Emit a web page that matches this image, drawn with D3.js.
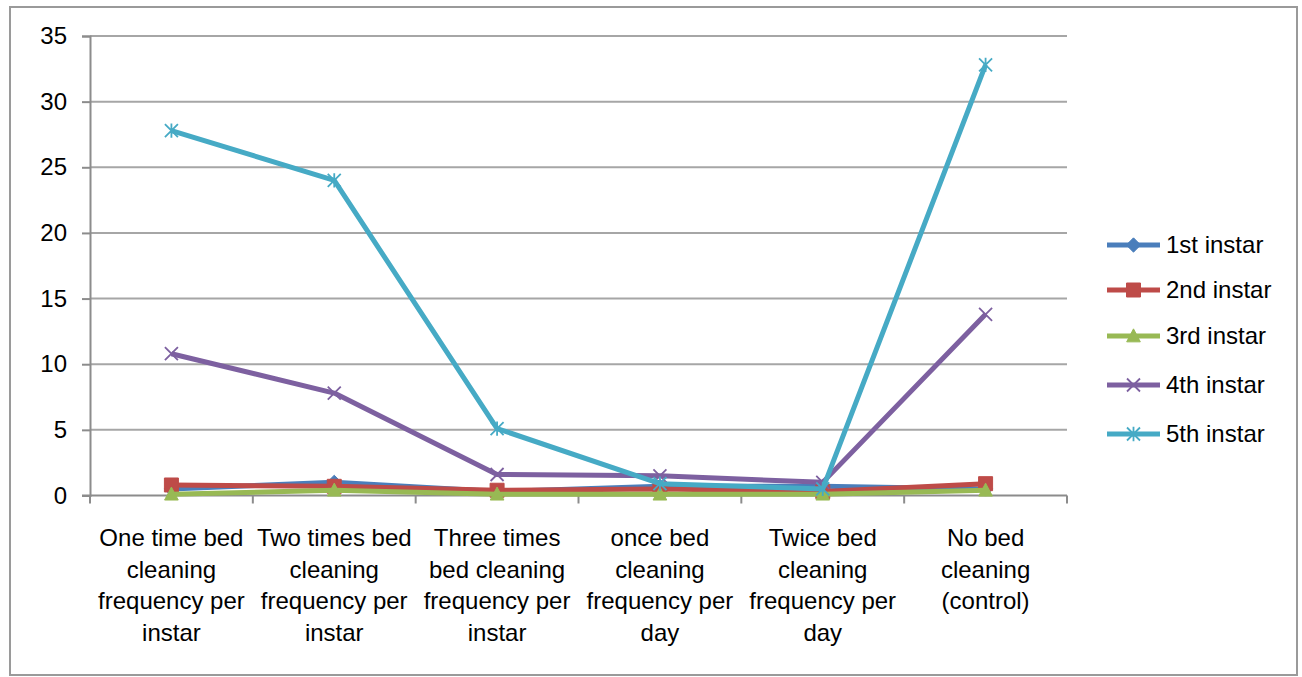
<!DOCTYPE html>
<html>
<head>
<meta charset="utf-8">
<script src="https://cdn.jsdelivr.net/npm/d3@7"></script>
<style>
  html, body { margin: 0; padding: 0; background: #fff; }
  svg { display: block; }
  text { font-family: "Liberation Sans", Arial, sans-serif; fill: #000; }
</style>
</head>
<body>
<svg id="chart" width="1302" height="677"></svg>
<script>
// ---- data ----
const categories = [
  ["One time bed", "cleaning", "frequency per", "instar"],
  ["Two times bed", "cleaning", "frequency per", "instar"],
  ["Three times", "bed cleaning", "frequency per", "instar"],
  ["once bed", "cleaning", "frequency per", "day"],
  ["Twice bed", "cleaning", "frequency per", "day"],
  ["No bed", "cleaning", "(control)"]
];
const seriesNames = ["1st instar", "2nd instar", "3rd instar", "4th instar", "5th instar"];
const instar1 = [0.5, 1.0, 0.3, 0.7, 0.7, 0.5];
const instar2 = [0.8, 0.7, 0.4, 0.5, 0.3, 0.9];
const instar3 = [0.1, 0.4, 0.1, 0.1, 0.1, 0.4];
const instar4 = [10.8, 7.8, 1.6, 1.5, 1.0, 13.8];
const instar5 = [27.8, 24.0, 5.1, 0.9, 0.5, 32.8];
const yTicks = [0, 5, 10, 15, 20, 25, 30, 35];
const colors = ["#4A7EBB", "#BE4B48", "#98B954", "#7D60A0", "#46AAC5"];
const markers = ["diamond", "square", "triangle", "x", "star"];

const allSeries = [instar1, instar2, instar3, instar4, instar5];

// ---- layout ----
const svg = d3.select("#chart");
const plotLeft = 90, plotRight = 1067, plotTop = 36, plotBottom = 495.5;
const FS = 24;

// outer border
svg.append("rect").attr("x", 10).attr("y", 7).attr("width", 1287).attr("height", 668)
  .attr("fill", "#fff").attr("stroke", "#9a9a9a").attr("stroke-width", 2);

const x = d3.scaleBand().domain(d3.range(categories.length)).range([plotLeft, plotRight]).padding(0);
const y = d3.scaleLinear().domain([0, 35]).range([plotBottom, plotTop]);

// gridlines
svg.append("g").selectAll("line").data(yTicks.filter(d => d > 0)).join("line")
  .attr("x1", plotLeft).attr("x2", plotRight)
  .attr("y1", d => y(d)).attr("y2", d => y(d))
  .attr("stroke", "#a6a6a6").attr("stroke-width", 2);

// y axis
const yAxis = svg.append("g").attr("transform", `translate(${plotLeft},0)`)
  .call(d3.axisLeft(y).tickValues(yTicks).tickSize(8).tickPadding(15).tickFormat(d3.format("d")));
yAxis.select(".domain").attr("stroke", "#8c8c8c").attr("stroke-width", 2);
yAxis.selectAll(".tick line").attr("stroke", "#8c8c8c").attr("stroke-width", 2);
yAxis.selectAll(".tick text").attr("font-size", FS).attr("font-family", "Liberation Sans, Arial, sans-serif").attr("fill", "#000");

// x axis (baseline + ticks between categories)
const xAxisG = svg.append("g");
xAxisG.append("line").attr("x1", plotLeft - 8).attr("x2", plotRight)
  .attr("y1", plotBottom).attr("y2", plotBottom).attr("stroke", "#8c8c8c").attr("stroke-width", 2);
const boundaries = d3.range(categories.length + 1).map(i => i < categories.length ? x(i) : plotRight);
xAxisG.selectAll("line.tk").data(boundaries).join("line").attr("class", "tk")
  .attr("x1", d => d).attr("x2", d => d)
  .attr("y1", plotBottom).attr("y2", plotBottom + 8)
  .attr("stroke", "#8c8c8c").attr("stroke-width", 2);

// category labels
const lab = svg.append("g").selectAll("text").data(categories).join("text")
  .attr("text-anchor", "middle").attr("font-size", FS)
  .attr("x", (d, i) => x(i) + x.bandwidth() / 2)
  .attr("y", 546);
lab.each(function(lines, i) {
  const t = d3.select(this);
  lines.forEach((l, j) => {
    t.append("tspan").attr("x", x(i) + x.bandwidth() / 2).attr("dy", j === 0 ? 0 : 31.7).text(l);
  });
});

// marker path generator
function markerPath(type, s) {
  const h = s / 2;
  switch (type) {
    case "diamond": return `M0,${-h*1.1}L${h*1.1},0L0,${h*1.1}L${-h*1.1},0Z`;
    case "square": return `M${-h},${-h}H${h}V${h}H${-h}Z`;
    case "triangle": return `M0,${-h*1.1}L${h*1.05},${h*0.9}L${-h*1.05},${h*0.9}Z`;
    case "x": return `M${-h},${-h}L${h},${h}M${-h},${h}L${h},${-h}`;
    case "star": return `M${-h},${-h}L${h},${h}M${-h},${h}L${h},${-h}M0,${-h*1.1}V${h*1.1}`;
  }
}
function drawMarker(g, type, color) {
  const filled = type === "diamond" || type === "square" || type === "triangle";
  const size = type === "square" ? 14 : 13;
  g.append("path").attr("d", markerPath(type, size))
    .attr("fill", filled ? color : "none")
    .attr("stroke", color).attr("stroke-width", filled ? 1 : 1.8);
}

const line = d3.line().x((d, i) => x(i) + x.bandwidth() / 2).y(d => y(d));

allSeries.forEach((vals, si) => {
  const g = svg.append("g");
  g.append("path").datum(vals).attr("d", line)
    .attr("fill", "none").attr("stroke", colors[si]).attr("stroke-width", 5)
    .attr("stroke-linejoin", "round");
  vals.forEach((v, i) => {
    const mg = g.append("g").attr("transform", `translate(${x(i) + x.bandwidth() / 2},${y(v)})`);
    drawMarker(mg, markers[si], colors[si]);
  });
});

// legend
const legendY = [245, 290, 336, 385, 434];
const leg = svg.append("g");
seriesNames.forEach((name, i) => {
  const g = leg.append("g").attr("transform", `translate(0,${legendY[i]})`);
  g.append("line").attr("x1", 1107).attr("x2", 1160).attr("y1", 0).attr("y2", 0)
    .attr("stroke", colors[i]).attr("stroke-width", 5);
  const mg = g.append("g").attr("transform", "translate(1133.5,0)");
  drawMarker(mg, markers[i], colors[i]);
  g.append("text").attr("x", 1166).attr("y", 0).attr("dy", "0.35em")
    .attr("font-size", FS).text(name);
});
</script>
</body>
</html>
